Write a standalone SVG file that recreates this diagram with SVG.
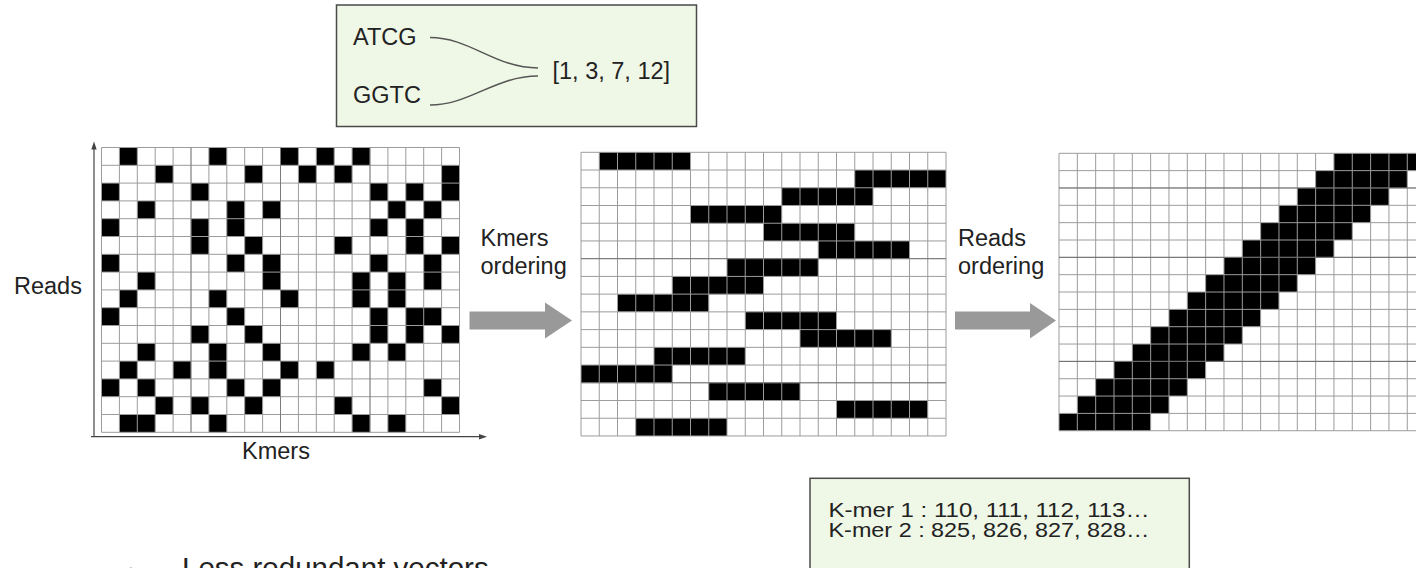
<svg xmlns="http://www.w3.org/2000/svg" width="1416" height="568" viewBox="0 0 1416 568">
  <style>
    text { font-family: "Liberation Sans", Arial, sans-serif; fill: #222; }
    .lbl { font-size: 23.5px; }
    .box { fill: #eff7e6; stroke: #4a4a4a; stroke-width: 1.5; }
    .cells { fill: #000; }
    .grid { fill: none; stroke: #9c9c9c; stroke-width: 1; }
    .gridDark { fill: none; stroke: #555; stroke-width: 1; }
    .axis { stroke: #444; stroke-width: 1.2; fill: none; }
    .axisHead { fill: #444; }
    .flow { fill: #999; }
    .link { fill: none; stroke: #555; stroke-width: 1.5; }
  </style>
  <defs>
    <!-- 20 x 16 cell lattice in unit coordinates -->
    <path id="lattice" vector-effect="non-scaling-stroke" d="M0 0V16M1 0V16M2 0V16M3 0V16M4 0V16M5 0V16M6 0V16M7 0V16M8 0V16M9 0V16M10 0V16M11 0V16M12 0V16M13 0V16M14 0V16M15 0V16M16 0V16M17 0V16M18 0V16M19 0V16M20 0V16M0 0H20M0 1H20M0 2H20M0 3H20M0 4H20M0 5H20M0 6H20M0 7H20M0 8H20M0 9H20M0 10H20M0 11H20M0 12H20M0 13H20M0 14H20M0 15H20M0 16H20"/>
  </defs>

  <rect width="1416" height="568" fill="#fff"/>

  <!-- Index box: two k-mers sharing one read list -->
  <g id="index-box">
    <rect class="box" x="336.5" y="5" width="360" height="121.5"/>
    <text class="lbl" x="353" y="45">ATCG</text>
    <text class="lbl" x="353" y="103">GGTC</text>
    <text class="lbl" x="552.5" y="79">[1, 3, 7, 12]</text>
  </g>

  <!-- Raw presence matrix: reads x k-mers -->
  <g id="matrix-raw">
    <g transform="translate(101.5,147.5) scale(17.9,17.8)">
      <path class="cells" d="M1 0h1v1h-1zM6 0h1v1h-1zM10 0h1v1h-1zM12 0h1v1h-1zM14 0h1v1h-1z
        M3 1h1v1h-1zM8 1h1v1h-1zM11 1h1v1h-1zM13 1h1v1h-1zM19 1h1v1h-1z
        M0 2h1v1h-1zM5 2h1v1h-1zM15 2h1v1h-1zM17 2h1v1h-1zM19 2h1v1h-1z
        M2 3h1v1h-1zM7 3h1v1h-1zM9 3h1v1h-1zM16 3h1v1h-1zM18 3h1v1h-1z
        M0 4h1v1h-1zM5 4h1v1h-1zM7 4h1v1h-1zM15 4h1v1h-1zM17 4h1v1h-1z
        M5 5h1v1h-1zM8 5h1v1h-1zM13 5h1v1h-1zM17 5h1v1h-1zM19 5h1v1h-1z
        M0 6h1v1h-1zM7 6h1v1h-1zM9 6h1v1h-1zM15 6h1v1h-1zM18 6h1v1h-1z
        M2 7h1v1h-1zM9 7h1v1h-1zM14 7h1v1h-1zM16 7h1v1h-1zM18 7h1v1h-1z
        M1 8h1v1h-1zM6 8h1v1h-1zM10 8h1v1h-1zM14 8h1v1h-1zM16 8h1v1h-1z
        M0 9h1v1h-1zM7 9h1v1h-1zM15 9h1v1h-1zM17 9h1v1h-1zM18 9h1v1h-1z
        M5 10h1v1h-1zM8 10h1v1h-1zM15 10h1v1h-1zM17 10h1v1h-1zM19 10h1v1h-1z
        M2 11h1v1h-1zM6 11h1v1h-1zM9 11h1v1h-1zM14 11h1v1h-1zM16 11h1v1h-1z
        M1 12h1v1h-1zM4 12h1v1h-1zM6 12h1v1h-1zM10 12h1v1h-1zM12 12h1v1h-1z
        M0 13h1v1h-1zM2 13h1v1h-1zM7 13h1v1h-1zM9 13h1v1h-1zM18 13h1v1h-1z
        M3 14h1v1h-1zM5 14h1v1h-1zM8 14h1v1h-1zM13 14h1v1h-1zM19 14h1v1h-1z
        M1 15h2v1h-2zM6 15h1v1h-1zM14 15h1v1h-1zM16 15h1v1h-1z"/>
      <use href="#lattice" class="grid"/>
      <path class="gridDark" vector-effect="non-scaling-stroke" d="M5 0V16M10 0V16M15 0V16" opacity="0.45"/>
    </g>
    <!-- axes -->
    <line class="axis" x1="94" y1="148" x2="94" y2="437"/>
    <polygon class="axisHead" points="94,141.5 91.3,149.5 96.7,149.5"/>
    <line class="axis" x1="91" y1="436.7" x2="480" y2="436.7"/>
    <polygon class="axisHead" points="487,436.7 479,434 479,439.4"/>
    <text class="lbl" x="14" y="293.5">Reads</text>
    <text class="lbl" x="242" y="459">Kmers</text>
  </g>

  <!-- Matrix after k-mer ordering -->
  <g id="matrix-kmers">
    <g transform="translate(581,152.3) scale(18.25,17.73)">
      <path class="cells" d="M1 0h5v1h-5zM15 1h5v1h-5zM11 2h5v1h-5zM6 3h5v1h-5z
        M10 4h5v1h-5zM13 5h5v1h-5zM8 6h5v1h-5zM5 7h5v1h-5z
        M2 8h5v1h-5zM9 9h5v1h-5zM12 10h5v1h-5zM4 11h5v1h-5z
        M0 12h5v1h-5zM7 13h5v1h-5zM14 14h5v1h-5zM3 15h5v1h-5z"/>
      <use href="#lattice" class="grid"/>
      <path class="gridDark" vector-effect="non-scaling-stroke" d="M0 6H20M0 13H20" opacity="0.6"/>
    </g>
  </g>

  <!-- Matrix after read ordering: diagonal band -->
  <g id="matrix-reads">
    <g transform="translate(1059,153.3) scale(18.33,17.34)">
      <path class="cells" d="M15 0h5v1h-5zM14 1h5v1h-5zM13 2h5v1h-5zM12 3h5v1h-5z
        M11 4h5v1h-5zM10 5h5v1h-5zM9 6h5v1h-5zM8 7h5v1h-5z
        M7 8h5v1h-5zM6 9h5v1h-5zM5 10h5v1h-5zM4 11h5v1h-5z
        M3 12h5v1h-5zM2 13h5v1h-5zM1 14h5v1h-5zM0 15h5v1h-5z"/>
      <use href="#lattice" class="grid"/>
      <path class="gridDark" vector-effect="non-scaling-stroke" d="M0 2H20M0 6H20M0 12H20" opacity="0.7"/>
    </g>
  </g>

  <!-- Step arrows -->
  <g id="connectors">
    <g id="step-kmers">
      <polygon class="flow" points="469.5,311.5 545,311.5 545,302.5 572,320.5 545,338.5 545,329.5 469.5,329.5"/>
      <text class="lbl" x="480.5" y="246">Kmers</text>
      <text class="lbl" x="480.5" y="273.5">ordering</text>
    </g>
    <g id="step-reads">
      <polygon class="flow" points="955,311.5 1030,311.5 1030,303 1056,320.5 1030,338.5 1030,329.5 955,329.5"/>
      <text class="lbl" x="958" y="246">Reads</text>
      <text class="lbl" x="958" y="273.5">ordering</text>
    </g>
    <path class="link" d="M430 37.5C470 37.5 495 68 538 68"/>
    <path class="link" d="M430 105C470 105 495 76 538 76"/>
  </g>

  <!-- Positions of consecutive reads per k-mer -->
  <g id="positions-box">
    <rect class="box" x="810" y="478.3" width="379.3" height="110"/>
    <text x="828.5" y="516.7" font-size="20.5" textLength="321" lengthAdjust="spacingAndGlyphs">K-mer 1 : 110, 111, 112, 113…</text>
    <text x="828.5" y="537" font-size="20.5" textLength="321" lengthAdjust="spacingAndGlyphs">K-mer 2 : 825, 826, 827, 828…</text>
  </g>

  <!-- Conclusion bullet -->
  <g id="conclusion">
    <text x="114" y="574.5" font-size="26" font-family="DejaVu Sans, sans-serif">→</text>
    <text x="182" y="577.5" font-size="29.5">Less redundant vectors</text>
  </g>
</svg>
